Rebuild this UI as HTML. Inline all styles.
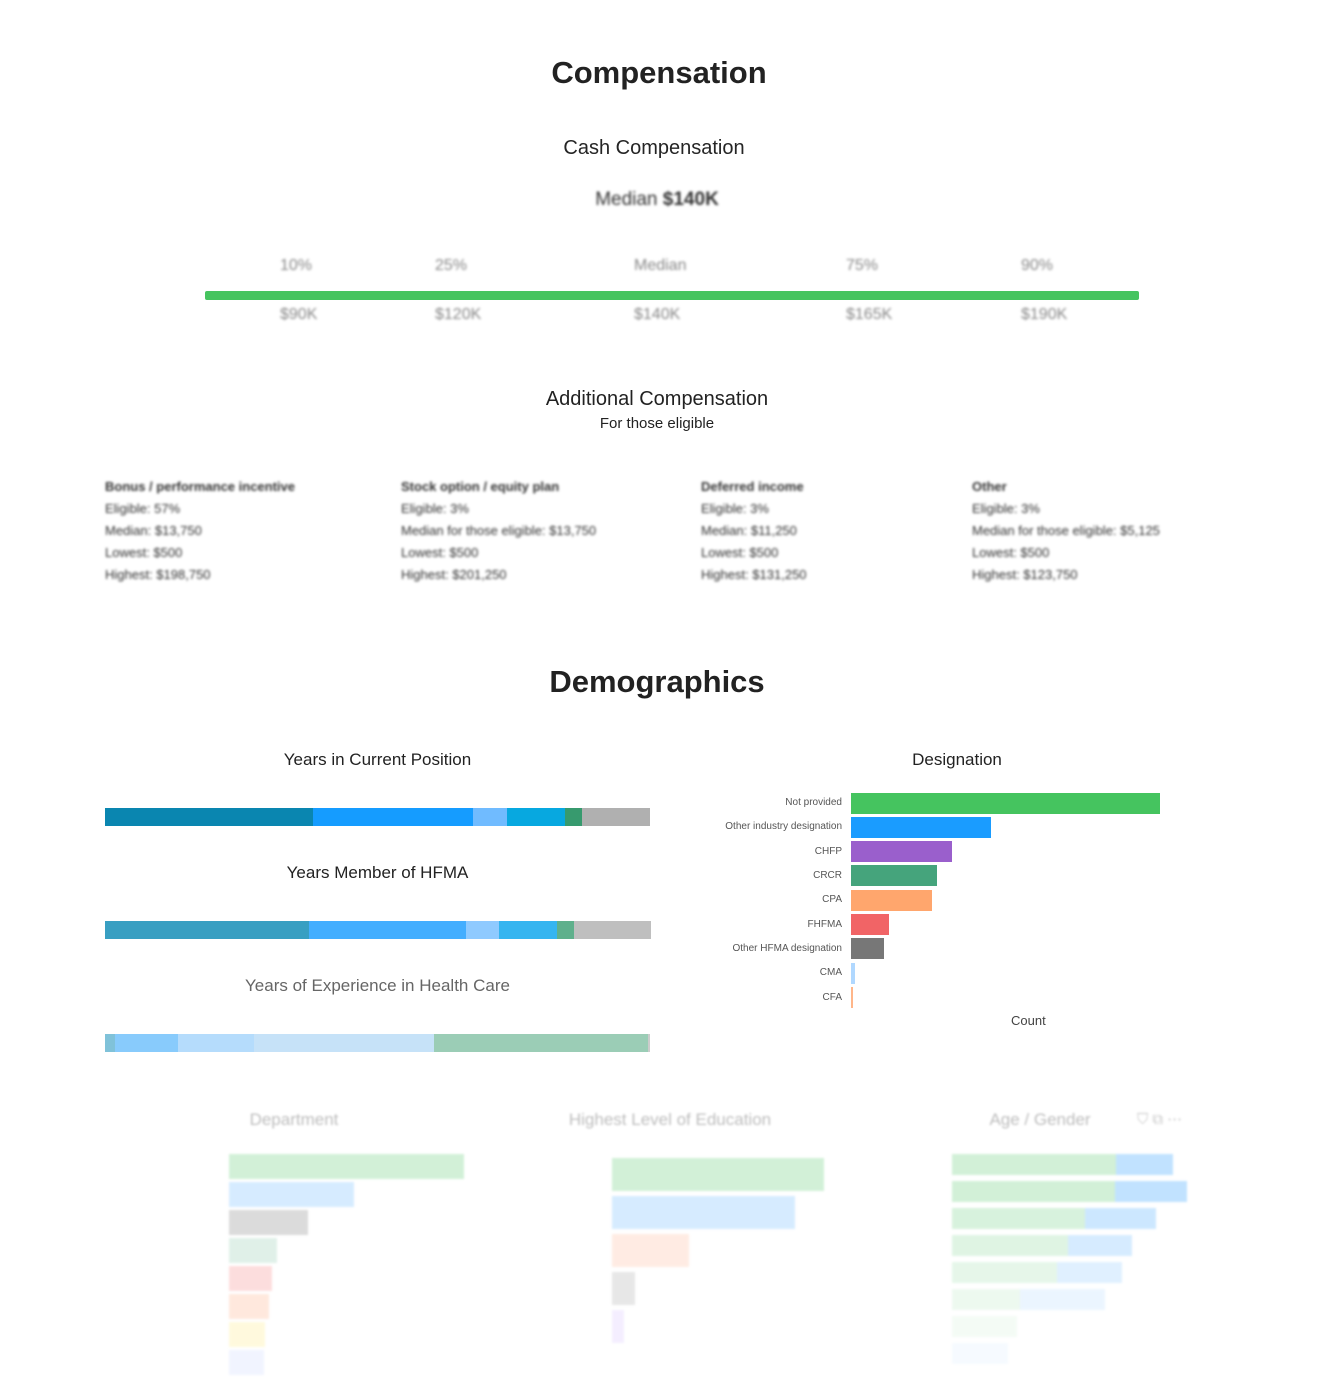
<!DOCTYPE html>
<html><head><meta charset="utf-8"><style>
body{margin:0;width:1318px;height:1396px;background:#fff;font-family:"Liberation Sans","DejaVu Sans",sans-serif;color:#222;position:relative;overflow:hidden}
.a{position:absolute}
.c{text-align:center}
.blur{filter:blur(1.3px)}
.bar{position:absolute;height:18px;display:flex}
.bar div{height:100%}
.lbl{position:absolute;font-size:10px;color:#555;text-align:right;width:150px}
.db{position:absolute;height:21px}
</style></head><body>
<div class="a c" style="left:0;width:1318px;top:55px;font-size:31px;font-weight:bold">Compensation</div>
<div class="a c" style="left:0;width:1308px;top:137px;font-size:20px;color:#252525">Cash Compensation</div>
<div class="a c blur" style="left:0;width:1314px;top:189px;font-size:19px;color:#333">Median <b>$140K</b></div>
<div class="a blur" style="top:257px;font-size:16px;color:#888;left:280px">10%</div>
<div class="a blur" style="top:257px;font-size:16px;color:#888;left:435px">25%</div>
<div class="a blur" style="top:257px;font-size:16px;color:#888;left:634px">Median</div>
<div class="a blur" style="top:257px;font-size:16px;color:#888;left:846px">75%</div>
<div class="a blur" style="top:257px;font-size:16px;color:#888;left:1021px">90%</div>
<div class="a" style="left:205px;top:291px;width:934px;height:9px;background:#46c45f;border-radius:2px"></div>
<div class="a blur" style="top:306px;font-size:16px;color:#888;left:280px">$90K</div>
<div class="a blur" style="top:306px;font-size:16px;color:#888;left:435px">$120K</div>
<div class="a blur" style="top:306px;font-size:16px;color:#888;left:634px">$140K</div>
<div class="a blur" style="top:306px;font-size:16px;color:#888;left:846px">$165K</div>
<div class="a blur" style="top:306px;font-size:16px;color:#888;left:1021px">$190K</div>
<div class="a c" style="left:0;width:1314px;top:388px;font-size:20px">Additional Compensation</div>
<div class="a c" style="left:0;width:1314px;top:415px;font-size:15px">For those eligible</div>
<div class="a blur" style="left:105px;top:476px;font-size:13px;line-height:22px;color:#333"><b>Bonus / performance incentive</b><br>Eligible: 57%<br>Median: $13,750<br>Lowest: $500<br>Highest: $198,750</div>
<div class="a blur" style="left:401px;top:476px;font-size:13px;line-height:22px;color:#333"><b>Stock option / equity plan</b><br>Eligible: 3%<br>Median for those eligible: $13,750<br>Lowest: $500<br>Highest: $201,250</div>
<div class="a blur" style="left:701px;top:476px;font-size:13px;line-height:22px;color:#333"><b>Deferred income</b><br>Eligible: 3%<br>Median: $11,250<br>Lowest: $500<br>Highest: $131,250</div>
<div class="a blur" style="left:972px;top:476px;font-size:13px;line-height:22px;color:#333"><b>Other</b><br>Eligible: 3%<br>Median for those eligible: $5,125<br>Lowest: $500<br>Highest: $123,750</div>
<div class="a c" style="left:0;width:1314px;top:664px;font-size:31px;font-weight:bold">Demographics</div>
<div class="a c" style="left:105px;width:545px;top:750px;font-size:17px">Years in Current Position</div>
<div class="bar" style="left:105px;top:808px;width:545px"><div style="width:208px;background:#0a86b0"></div><div style="width:160px;background:#159cff"></div><div style="width:34px;background:#70bbff"></div><div style="width:58px;background:#07a8e0"></div><div style="width:17px;background:#379a6e"></div><div style="flex:1;background:#b0b0b0"></div></div>
<div class="a c" style="left:105px;width:545px;top:863px;font-size:17px">Years Member of HFMA</div>
<div class="bar" style="left:105px;top:921px;width:546px"><div style="width:204px;background:#389fc2"></div><div style="width:157px;background:#43aeff"></div><div style="width:33px;background:#8fcaff"></div><div style="width:58px;background:#35b5f0"></div><div style="width:17px;background:#5fb08c"></div><div style="flex:1;background:#bfbfbf"></div></div>
<div class="a c" style="left:105px;width:545px;top:976px;font-size:17px;color:#666">Years of Experience in Health Care</div>
<div class="bar" style="left:105px;top:1034px;width:545px"><div style="width:10px;background:#80c2d9"></div><div style="width:63px;background:#88cbfc"></div><div style="width:76px;background:#b5dcfc"></div><div style="width:180px;background:#c6e2f8"></div><div style="width:214px;background:#9bcdb6"></div><div style="flex:1;background:#ccc"></div></div>
<div class="a c" style="left:850px;width:214px;top:750px;font-size:17px">Designation</div>
<div class="lbl" style="left:692px;top:797px">Not provided</div><div class="db" style="left:851px;top:793px;width:309px;background:#45c45f"></div>
<div class="lbl" style="left:692px;top:821px">Other industry designation</div><div class="db" style="left:851px;top:817px;width:140px;background:#1a9cff"></div>
<div class="lbl" style="left:692px;top:846px">CHFP</div><div class="db" style="left:851px;top:841px;width:101px;background:#9a5fcc"></div>
<div class="lbl" style="left:692px;top:870px">CRCR</div><div class="db" style="left:851px;top:865px;width:86px;background:#45a47c"></div>
<div class="lbl" style="left:692px;top:894px">CPA</div><div class="db" style="left:851px;top:890px;width:81px;background:#ffa66d"></div>
<div class="lbl" style="left:692px;top:919px">FHFMA</div><div class="db" style="left:851px;top:914px;width:38px;background:#f16466"></div>
<div class="lbl" style="left:692px;top:943px">Other HFMA designation</div><div class="db" style="left:851px;top:938px;width:33px;background:#777"></div>
<div class="lbl" style="left:692px;top:967px">CMA</div><div class="db" style="left:851px;top:963px;width:4px;background:#b0d8ff"></div>
<div class="lbl" style="left:692px;top:992px">CFA</div><div class="db" style="left:851px;top:987px;width:2px;background:#ffb68a"></div>
<div class="a" style="left:1011px;top:1013px;font-size:13px;color:#444">Count</div>
<div style="position:absolute;left:0;top:1100px;width:1318px;height:296px;opacity:0.35;filter:blur(1px)">
<div class="a c" style="left:194px;width:200px;top:10px;font-size:17px;color:#444">Department</div>
<div class="a c" style="left:520px;width:300px;top:10px;font-size:17px;color:#444">Highest Level of Education</div>
<div class="a c" style="left:940px;width:200px;top:10px;font-size:17px;color:#444">Age / Gender</div>
<div class="a" style="left:1137px;top:10px;font-size:15px;color:#666">⛉ ⧉ ⋯</div>
<div class="a" style="left:229px;top:54px;width:235px;height:25px;background:#7fd58f"></div>
<div class="a" style="left:229px;top:82px;width:125px;height:25px;background:#8cc8ff"></div>
<div class="a" style="left:229px;top:110px;width:79px;height:25px;background:#999"></div>
<div class="a" style="left:229px;top:138px;width:48px;height:25px;background:#a8d6c0"></div>
<div class="a" style="left:229px;top:166px;width:43px;height:25px;background:#f9a0a0"></div>
<div class="a" style="left:229px;top:194px;width:40px;height:25px;background:#ffc0a0"></div>
<div class="a" style="left:229px;top:222px;width:36px;height:25px;background:#fff0a0"></div>
<div class="a" style="left:229px;top:250px;width:35px;height:25px;background:#d8e0ff"></div>
<div class="a" style="left:612px;top:58px;width:212px;height:33px;background:#7fd58f"></div>
<div class="a" style="left:612px;top:96px;width:183px;height:33px;background:#8cc8ff"></div>
<div class="a" style="left:612px;top:134px;width:77px;height:33px;background:#ffc8b0"></div>
<div class="a" style="left:612px;top:172px;width:23px;height:33px;background:#bbb"></div>
<div class="a" style="left:612px;top:210px;width:12px;height:33px;background:#e0d0ff"></div>
<div class="a" style="left:952px;top:54px;width:164px;height:21px;background:#7fd58f"></div><div class="a" style="left:1116px;top:54px;width:57px;height:21px;background:#4faeff"></div>
<div class="a" style="left:952px;top:81px;width:163px;height:21px;background:#7fd58f"></div><div class="a" style="left:1115px;top:81px;width:72px;height:21px;background:#4faeff"></div>
<div class="a" style="left:952px;top:108px;width:133px;height:21px;background:#8fdb9f"></div><div class="a" style="left:1085px;top:108px;width:71px;height:21px;background:#6fbcff"></div>
<div class="a" style="left:952px;top:135px;width:116px;height:21px;background:#a5e2b2"></div><div class="a" style="left:1068px;top:135px;width:64px;height:21px;background:#8cc8ff"></div>
<div class="a" style="left:952px;top:162px;width:105px;height:21px;background:#b8e8c2"></div><div class="a" style="left:1057px;top:162px;width:65px;height:21px;background:#a8d6ff"></div>
<div class="a" style="left:952px;top:189px;width:68px;height:21px;background:#cdeed4"></div><div class="a" style="left:1020px;top:189px;width:85px;height:21px;background:#c8e4ff"></div>
<div class="a" style="left:952px;top:216px;width:65px;height:21px;background:#e0f4e4"></div>
<div class="a" style="left:952px;top:243px;width:56px;height:21px;background:#e6f2ff"></div>
</div>
</body></html>
